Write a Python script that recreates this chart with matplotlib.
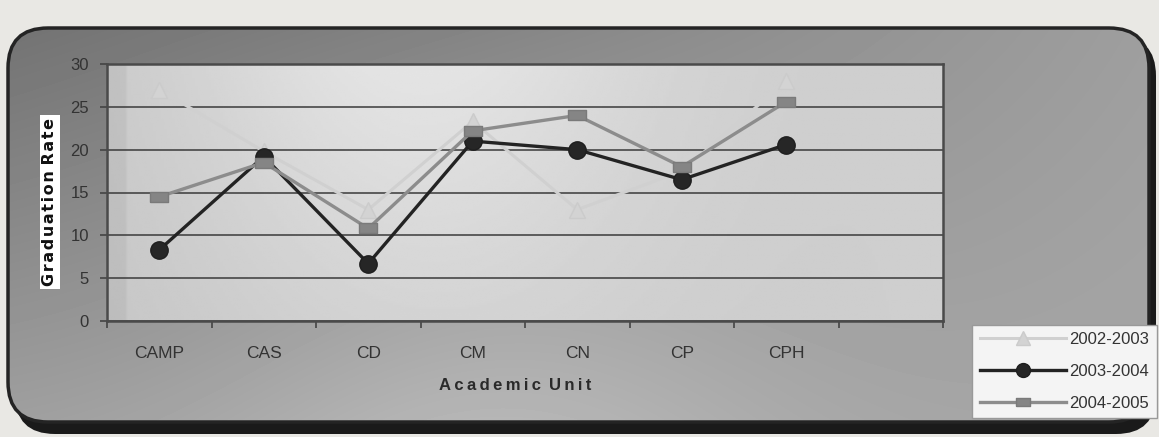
import numpy as np
import matplotlib
matplotlib.use("Agg")
import matplotlib.pyplot as plt
from matplotlib.patches import FancyBboxPatch

plt.rcParams['font.family'] = ['Liberation Sans', 'DejaVu Sans']

# taux de diplomation par unite academique
unites = ["CAMP", "CAS", "CD", "CM", "CN", "CP", "CPH"]
taux_2002_2003 = [27.0, 19.8, 13.0, 23.3, 13.0, 17.5, 28.0]
taux_2003_2004 = [8.3, 19.2, 6.7, 21.0, 20.0, 16.5, 20.6]
taux_2004_2005 = [14.5, 18.5, 10.8, 22.2, 24.0, 18.0, 25.6]
annees = ["2002-2003", "2003-2004", "2004-2005"]
graduations = [0, 5, 10, 15, 20, 25, 30]

W, H = 1159, 437
fig = plt.figure(figsize=(W / 100, H / 100), dpi=100)
fig.patch.set_facecolor("#e9e8e4")

# fond : cadre arrondi avec ombre, en coordonnees pixel
fond = fig.add_axes([0, 0, 1, 1])
fond.set_xlim(0, W)
fond.set_ylim(H, 0)
fond.axis("off")

ombre = FancyBboxPatch((15, 36), 1141, 398, boxstyle="round,pad=0,rounding_size=40",
                       fc="#1a1a1a", ec="none", zorder=1)
fond.add_patch(ombre)
cadre = FancyBboxPatch((8, 28), 1141, 394, boxstyle="round,pad=0,rounding_size=40",
                       fc="none", ec="#242424", lw=2.5, zorder=3)
fond.add_patch(cadre)

gx, gy = np.meshgrid(np.linspace(0, 1, 300), np.linspace(0, 1, 120))
degrade = (0.45 + 0.17 * gy + 0.14 * gx * (1 - gy) + 0.03 * gx
           + 0.08 * np.exp(-((gx - 0.42) / 0.25) ** 2) * gy)
img = fond.imshow(degrade, cmap="gray", vmin=0, vmax=1, extent=(8, 1149, 422, 28),
                  aspect="auto", zorder=2, interpolation="bilinear")
img.set_clip_path(cadre)

# zone du graphique
ax = fig.add_axes([107 / W, 1 - 321 / H, (943 - 107) / W, (321 - 64) / H])
ax.set_facecolor("none")
px, py = np.meshgrid(np.linspace(0, 1, 300), np.linspace(0, 1, 120))
zone = 0.77 + 0.11 * np.exp(-((px - 0.36) / 0.30) ** 2) * (0.4 + 0.6 * py) + 0.04 * px
zone[:, :7] -= 0.04
ax.imshow(zone, cmap="gray", vmin=0, vmax=1, extent=(0, 1, 1, 0), transform=ax.transAxes,
          aspect="auto", zorder=0, interpolation="bilinear")

x = np.arange(len(unites))
rect = [(-1, -0.55), (1, -0.55), (1, 0.55), (-1, 0.55), (-1, -0.55)]

ax.plot(x, taux_2002_2003, color="#d0d0d0", lw=2.2, marker="^", ms=12,
        mec="#cbcbcb", mfc="#d3d3d3", label=annees[0], zorder=3)
ax.plot(x, taux_2003_2004, color="#232323", lw=2.4, marker="o", ms=12.5,
        mec="#1e1e1e", mfc="#262626", label=annees[1], zorder=4)
ax.plot(x, taux_2004_2005, color="#8c8c8c", lw=2.4, marker=rect, ms=13,
        mec="#7a7a7a", mfc="#858585", label=annees[2], zorder=5)

ax.set_xlim(-0.5, 7.5)
ax.set_ylim(0, 30)
ax.set_yticks(graduations)
ax.set_xticks(x)
ax.set_xticklabels(unites)
ax.set_xticks(np.arange(-0.5, 8, 1), minor=True)
ax.tick_params(axis="x", which="major", length=0, pad=18, labelsize=12.5, labelcolor="#333333")
ax.tick_params(axis="x", which="minor", length=5, width=1.2, color="#444444", direction="out")
ax.tick_params(axis="y", length=5, width=1.2, color="#444444", pad=8,
               labelsize=12, labelcolor="#333333")
ax.yaxis.grid(True, color="#3a3a3a", lw=1.1)
ax.set_axisbelow(True)
for cote in ax.spines.values():
    cote.set_color("#4a4a4a")
    cote.set_linewidth(1.8)

# titres des axes
titre_y = "\u200a".join("Graduation") + " " + "\u200a".join("Rate")
fig.text(50 / W, 1 - 202 / H, titre_y, rotation=90, ha="center", va="center",
         fontsize=11.5, fontweight="heavy", family="DejaVu Sans", color="#111111",
         bbox=dict(fc="white", ec="none", pad=2))
titre_x = "\u2009".join("Academic") + " \u2009" + "\u2009".join("Unit")
fig.text(515 / W, 1 - 385 / H, titre_x, ha="center", va="center",
         fontsize=12, fontweight="bold", color="#2a2a2a")

leg = fig.legend(loc="lower right", bbox_to_anchor=(1157 / W, 1 - 418 / H),
                 bbox_transform=fig.transFigure, borderaxespad=0, fontsize=12,
                 handlelength=5.2, handletextpad=0.2, labelspacing=1.0,
                 borderpad=0.45, markerscale=0.8, fancybox=False, framealpha=1)
leg.get_frame().set_facecolor("#f4f4f4")
leg.get_frame().set_edgecolor("#999999")
for t in leg.get_texts():
    t.set_color("#333333")

plt.savefig("out.png", dpi=100, facecolor=fig.get_facecolor())
